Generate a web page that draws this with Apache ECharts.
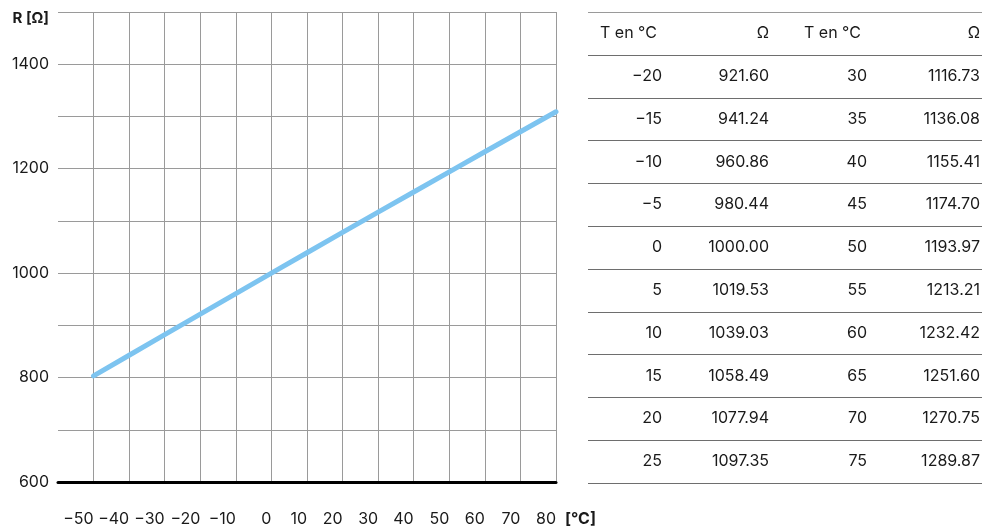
<!DOCTYPE html>
<html>
<head>
<meta charset="utf-8">
<script src="https://cdn.jsdelivr.net/npm/echarts@6/dist/echarts.min.js"></script>
<style>
html,body{margin:0;padding:0;background:#fff;}
#chart{width:985px;height:531px;}
</style>
</head>
<body>
<div id="chart"></div>
<script>
// Curve data (temperature °C, resistance Ω)
const curveTemps = [-50, -40, -30, -20, -10, 0, 10, 20, 30, 40, 50, 60, 70, 80];
const curveOhms  = [803.06, 842.71, 882.22, 921.60, 960.86, 1000.00, 1039.03, 1077.94, 1116.73, 1155.41, 1193.97, 1232.42, 1270.75, 1308.93];

// Table data
const tableHeader = ['T en °C', 'Ω', 'T en °C', 'Ω'];
const tableTempsA = [-20, -15, -10, -5, 0, 5, 10, 15, 20, 25];
const tableOhmsA  = [921.60, 941.24, 960.86, 980.44, 1000.00, 1019.53, 1039.03, 1058.49, 1077.94, 1097.35];
const tableTempsB = [30, 35, 40, 45, 50, 55, 60, 65, 70, 75];
const tableOhmsB  = [1116.73, 1136.08, 1155.41, 1174.70, 1193.97, 1213.21, 1232.42, 1251.60, 1270.75, 1289.87];

// Axis settings
const xMin = -60, xMax = 80, xStep = 10;
const yMin = 600, yMax = 1500, yStep = 100;

const FONT = 'Inter, "Noto Sans", sans-serif';
const TXT = '#1a1a1a';

function fmtNum(v){ return v < 0 ? '\u2212' + Math.abs(v) : String(v); }

const chart = echarts.init(document.getElementById('chart'), null, {renderer:'canvas'});

// Table graphics
const tLeft = 588, tRight = 982, tTop = 12, rowH = 42.8;
const colRight = [662, 769, 867, 980];
const g = [];
const nRows = tableTempsA.length + 1;
for (let i = 0; i <= nRows; i++) {
  const y = Math.round(tTop + rowH * i) + 0.5;
  g.push({type:'line', shape:{x1:tLeft, y1:y, x2:tRight, y2:y},
          style:{stroke: i === 0 ? '#9a9a9a' : '#6e6e6e', lineWidth:1}, silent:true});
}
function cell(text, x, row, align){
  g.push({type:'text', x:x, y: tTop + rowH * row + rowH/2,
    style:{text:text, fill:TXT, font:'16px ' + FONT, textAlign:align, textVerticalAlign:'middle'}, silent:true});
}
cell(tableHeader[0], 600, 0, 'left');
cell(tableHeader[1], colRight[1], 0, 'right');
cell(tableHeader[2], 804, 0, 'left');
cell(tableHeader[3], colRight[3], 0, 'right');
for (let r = 0; r < tableTempsA.length; r++) {
  cell(fmtNum(tableTempsA[r]), colRight[0], r+1, 'right');
  cell(tableOhmsA[r].toFixed(2), colRight[1], r+1, 'right');
  cell(fmtNum(tableTempsB[r]), colRight[2], r+1, 'right');
  cell(tableOhmsB[r].toFixed(2), colRight[3], r+1, 'right');
}

const option = {
  animation:false,
  backgroundColor:'#fff',
  grid:{left:58, right:429, top:12, bottom:49, containLabel:false},
  xAxis:{
    type:'value', min:xMin, max:xMax, interval:xStep,
    name:'[°C]', nameLocation:'end', nameGap:9,
    nameTextStyle:{color:TXT, fontFamily:FONT, fontSize:16, fontWeight:'bold', verticalAlign:'top', padding:[29,0,0,0]},
    axisLine:{show:true, lineStyle:{color:'#000', width:3}},
    axisTick:{show:false},
    axisLabel:{color:TXT, fontFamily:FONT, fontSize:16, align:'right', margin:29,
      formatter:function(v){ return v === xMin ? '' : fmtNum(v); }},
    splitLine:{show:true, showMinLine:false, showMaxLine:true, lineStyle:{color:'#9a9a9a', width:1}}
  },
  yAxis:{
    type:'value', min:yMin, max:yMax, interval:yStep,
    axisLine:{show:false}, axisTick:{show:false},
    axisLabel:{color:TXT, fontFamily:FONT, fontSize:16, margin:9,
      formatter:function(v){
        if (v === yMax) return '{b|R [Ω]}';
        return (v % 200 === 0) ? String(v) : '';
      },
      rich:{b:{fontWeight:'bold', fontFamily:FONT, fontSize:15, color:TXT, padding:[12,0,0,0]}}
    },
    splitLine:{show:true, lineStyle:{color:'#9a9a9a', width:1}}
  },
  series:[{
    type:'line',
    data: curveTemps.map((t,i)=>[t, curveOhms[i]]),
    symbol:'none',
    lineStyle:{color:'#7dc4f0', width:5, cap:'round', join:'round'},
    z:5
  }],
  graphic:g
};
chart.setOption(option);
</script>
</body>
</html>
